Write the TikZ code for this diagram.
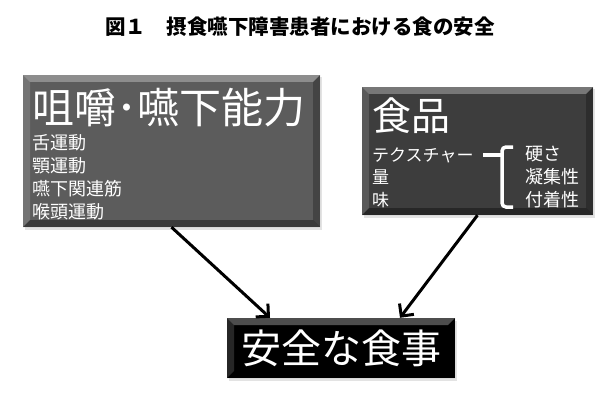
\documentclass[tikz,border=0pt]{standalone}
\usepackage{fontspec}
\setmainfont{Noto Sans CJK JP}
\newfontfamily\jpfont{Noto Sans CJK JP}
\usetikzlibrary{arrows.meta, calc, shadows}

\tikzset{
  bevel/.style={path picture={
    \fill[white,opacity=.30] (path picture bounding box.north west) -- (path picture bounding box.north east)
      -- ([shift={(-7pt,-7pt)}]path picture bounding box.north east) -- ([shift={(7pt,-7pt)}]path picture bounding box.north west) -- cycle;
    \fill[white,opacity=.15] (path picture bounding box.north west) -- ([shift={(7pt,-7pt)}]path picture bounding box.north west)
      -- ([shift={(7pt,7pt)}]path picture bounding box.south west) -- (path picture bounding box.south west) -- cycle;
    \fill[black,opacity=.25] (path picture bounding box.north east) -- ([shift={(-7pt,-7pt)}]path picture bounding box.north east)
      -- ([shift={(-7pt,7pt)}]path picture bounding box.south east) -- (path picture bounding box.south east) -- cycle;
    \fill[black,opacity=.35] (path picture bounding box.south west) -- ([shift={(7pt,7pt)}]path picture bounding box.south west)
      -- ([shift={(-7pt,7pt)}]path picture bounding box.south east) -- (path picture bounding box.south east) -- cycle;
  }},
  panel/.style={rectangle, inner sep=0pt, bevel, drop shadow={opacity=.22, shadow xshift=2pt, shadow yshift=-2.5pt}},
  bigtext/.style={text=white, inner sep=0pt, font=\jpfont\fontsize{42}{48}\selectfont},
  smalltext/.style={text=white, inner sep=0pt, align=left, font=\jpfont\fontsize{18}{23}\selectfont},
  flow/.style={line width=3pt, -{Straight Barb[length=9pt, width=18pt, line width=3pt]}}
}

\begin{document}
\begin{tikzpicture}[x=1pt, y=-1pt]

        \useasboundingbox (0,0) rectangle (600,404);

        % TITLE
        \node[inner sep=0pt, font=\jpfont\bfseries\fontsize{20.5}{24}\selectfont] (title) at (300,27) {図１　摂食嚥下障害患者における食の安全};

        % ABILITY
        \node[panel, fill=black!64, minimum width=297pt, minimum height=152pt] (ability) at (171.5,151) {};
        \node[bigtext, anchor=west] (abilityhead) at (32,108) {咀嚼･嚥下能力};
        \node[smalltext, anchor=west] (abilitylist) at (32,177.5) {舌運動\\顎運動\\嚥下関連筋\\喉頭運動};

        % FOOD
        \node[panel, fill=black!76, minimum width=231pt, minimum height=128pt] (food) at (477.5,151) {};
        \node[bigtext, font=\jpfont\fontsize{39}{46}\selectfont, anchor=west] (foodhead) at (372,116) {食品};
        \node[smalltext, font=\jpfont\fontsize{17}{22.5}\selectfont, anchor=west] (foodlist) at (372,177.5) {テクスチャー\\量\\味};
        \node[smalltext, anchor=west] (texture) at (525,177.5) {硬さ\\凝集性\\付着性};
        \coordinate (stub) at (483,155);
        \coordinate (brace) at (502,155);
        \draw[white, line width=3.5pt] (stub) -- (brace);
        \draw[white, line width=3.5pt, rounded corners=4pt] (513,147) -| (brace) |- (513,207);

        % SAFE MEAL
        \node[panel, fill=black, minimum width=228pt, minimum height=60pt, font=\jpfont\fontsize{40}{46}\selectfont, text=white] (meal) at (341,348) {安全な食事};

        % ARROWS
        \draw[flow] (ability.south) -- ([xshift=-71pt]meal.north);
        \draw[flow] (food.south) -- ([xshift=59pt]meal.north);

    \end{tikzpicture}
\end{document}
